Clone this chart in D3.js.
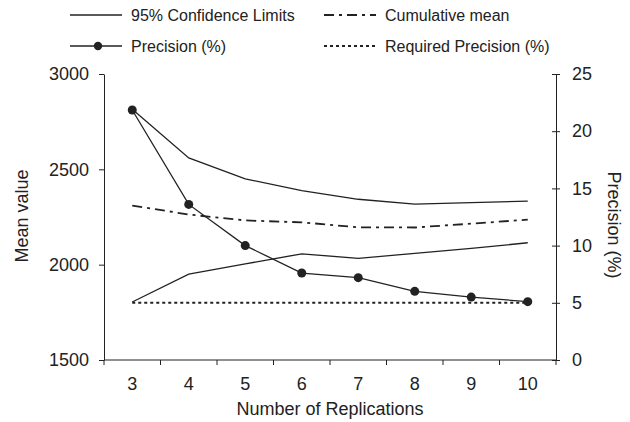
<!DOCTYPE html>
<html>
<head>
<meta charset="utf-8">
<script src="https://cdn.jsdelivr.net/npm/d3@7"></script>
<style>
  body { margin: 0; background: #fff; }
  text { font-family: "Liberation Sans", Arial, sans-serif; fill: #222; }
</style>
</head>
<body>
<svg width="630" height="422"></svg>
<script>
// data
var replications = [3, 4, 5, 6, 7, 8, 9, 10];
var upperLimit = [2815, 2560, 2450, 2388, 2343, 2318, 2325, 2333];
var lowerLimit = [1804, 1950, 2004, 2057, 2033, 2059, 2085, 2115];
var cumMean = [2310, 2263, 2232, 2222, 2196, 2195, 2215, 2236];
var precision = [21.85, 13.6, 10.0, 7.6, 7.2, 6.0, 5.5, 5.1];
var requiredPrecision = [5, 5, 5, 5, 5, 5, 5, 5];
var meanTicks = [1500, 2000, 2500, 3000];
var precTicks = [0, 5, 10, 15, 20, 25];

var svg = d3.select('svg');
var plotLeft = 104, plotRight = 556, plotTop = 74, plotBottom = 360;
var ink = "#222";
var fs = "18px";

var x = d3.scaleBand().domain(replications).range([plotLeft, plotRight]);
var yMean = d3.scaleLinear().domain([1500, 3000]).range([plotBottom, plotTop]);
var yPrec = d3.scaleLinear().domain([0, 25]).range([plotBottom, plotTop]);

// axes
var gx = svg.append("g").attr("transform", "translate(0," + plotBottom + ")")
    .call(d3.axisBottom(x).tickSize(0).tickPadding(17));
gx.select(".domain").remove();
gx.selectAll("text").style("font-size", fs);
// tick marks on band edges
gx.selectAll("line.edge")
    .data(d3.range(replications.length + 1))
    .enter().append("line")
    .attr("class", "edge")
    .attr("x1", function(i) { return plotLeft + i * x.bandwidth(); })
    .attr("x2", function(i) { return plotLeft + i * x.bandwidth(); })
    .attr("y1", 0).attr("y2", 5)
    .attr("stroke", ink);
gx.append("line").attr("x1", plotLeft).attr("x2", plotRight).attr("stroke", ink);

var gl = svg.append("g").attr("transform", "translate(" + plotLeft + ",0)")
    .call(d3.axisLeft(yMean).tickValues(meanTicks).tickFormat(d3.format("d"))
      .tickSize(5).tickPadding(10).tickSizeOuter(0));
gl.selectAll("text").style("font-size", fs);

var gr = svg.append("g").attr("transform", "translate(" + plotRight + ",0)")
    .call(d3.axisRight(yPrec).tickValues(precTicks).tickFormat(d3.format("d"))
      .tickSize(4).tickPadding(12).tickSizeOuter(0));
gr.selectAll(".tick line").attr("x1", -4);
gr.selectAll("text").style("font-size", fs);

svg.selectAll(".domain, .tick line").attr("stroke", ink);

// axis titles
svg.append("text").attr("x", 330).attr("y", 415).attr("text-anchor", "middle")
    .style("font-size", fs).text("Number of Replications");
svg.append("text").attr("transform", "translate(28,216) rotate(-90)").attr("text-anchor", "middle")
    .style("font-size", fs).text("Mean value");
svg.append("text").attr("transform", "translate(608,225) rotate(90)").attr("text-anchor", "middle")
    .style("font-size", fs).text("Precision (%)");

function cx(d, i) { return x(replications[i]) + x.bandwidth() / 2; }
var lineMean = d3.line().x(cx).y(function(d) { return yMean(d); });
var linePrec = d3.line().x(cx).y(function(d) { return yPrec(d); });

svg.append("path").attr("d", lineMean(upperLimit)).attr("fill", "none").attr("stroke", ink).attr("stroke-width", 1.3);
svg.append("path").attr("d", lineMean(lowerLimit)).attr("fill", "none").attr("stroke", ink).attr("stroke-width", 1.3);
svg.append("path").attr("d", lineMean(cumMean)).attr("fill", "none").attr("stroke", ink)
    .attr("stroke-width", 1.8).attr("stroke-dasharray", "10,5,3,5");
svg.append("path").attr("d", linePrec(requiredPrecision)).attr("fill", "none").attr("stroke", ink)
    .attr("stroke-width", 2).attr("stroke-dasharray", "3,3");
svg.append("path").attr("d", linePrec(precision)).attr("fill", "none").attr("stroke", ink).attr("stroke-width", 1.3);
svg.selectAll("circle.prec").data(precision).enter().append("circle")
    .attr("class", "prec")
    .attr("cx", cx).attr("cy", function(d) { return yPrec(d); })
    .attr("r", 4.5).attr("fill", ink);

// legend
var legend = [
  { label: "95% Confidence Limits", x: 70, y: 15, dash: null, w: 1.3, dot: false },
  { label: "Cumulative mean", x: 324, y: 15, dash: "10,5,3,5", w: 1.8, dot: false },
  { label: "Precision (%)", x: 70, y: 46, dash: null, w: 1.3, dot: true },
  { label: "Required Precision (%)", x: 324, y: 46, dash: "3,3", w: 2, dot: false }
];
var lg = svg.selectAll("g.leg").data(legend).enter().append("g").attr("class", "leg")
    .attr("transform", function(d) { return "translate(" + d.x + "," + d.y + ")"; });
lg.append("line").attr("x1", 0).attr("x2", 52).attr("stroke", ink)
    .attr("stroke-width", function(d) { return d.w; })
    .attr("stroke-dasharray", function(d) { return d.dash; });
lg.filter(function(d) { return d.dot; }).append("circle").attr("cx", 28).attr("r", 4.2).attr("fill", ink);
lg.append("text").attr("x", 61).attr("dy", "0.35em").style("font-size", "16px")
    .text(function(d) { return d.label; });
</script>
</body>
</html>
